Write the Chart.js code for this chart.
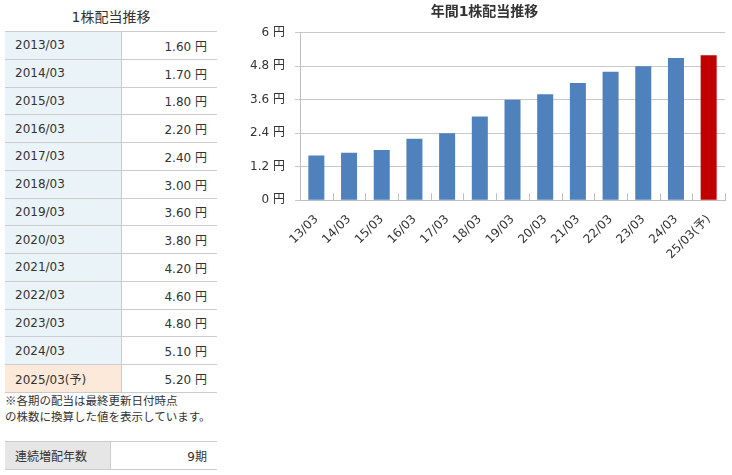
<!DOCTYPE html>
<html lang="ja">
<head>
  <meta charset="UTF-8">
  <title>1株配当推移</title>
  <script src="https://cdn.jsdelivr.net/npm/chart.js"></script>
  <style>
    * { margin: 0; padding: 0; box-sizing: border-box; }
    body {
      font-family: 'DejaVu Sans', 'Noto Sans CJK JP', sans-serif;
      background: #fff;
      color: #333;
      width: 732px;
      height: 475px;
      position: relative;
      overflow: hidden;
    }
    .left { position: absolute; left: 5px; top: 0; width: 212px; }
    .left h3 {
      font-size: 14px;
      font-weight: normal;
      text-align: center;
      height: 31px;
      line-height: 34px;
    }
    table { border-collapse: collapse; width: 212px; font-size: 12px; }
    td { height: 27.75px; border-top: 1px solid #ccc; border-bottom: 1px solid #ccc; padding: 0 10px; }
    td.p { width: 116px; background: #eaf4f8; border-right: 1px solid #ccc; }
    td.v { text-align: right; }
    tr.fc td.p { background: #fde9d9; }
    .note {
      font-size: 11.5px;
      line-height: 16px;
      margin-top: -1px;
      white-space: nowrap;
      font-family: 'Noto Sans CJK JP', sans-serif;
    }
    .streak { position: absolute; left: 5px; top: 441px; }
    .streak td { height: 28px; }
    .streak td.p { width: 105px; background: #e6e6e6; font-family: 'Noto Sans CJK JP', sans-serif; }
    .chart-box { position: absolute; left: 244px; top: 0; width: 488px; height: 266px; }
  </style>
</head>
<body>
  <div class="left">
    <h3>1株配当推移</h3>
    <table id="divTable"></table>
    <p class="note">※各期の配当は最終更新日付時点<br>の株数に換算した値を表示しています。</p>
  </div>
  <table class="streak">
    <tr><td class="p">連続増配年数</td><td class="v" id="streak"></td></tr>
  </table>
  <div class="chart-box">
    <canvas id="divChart"></canvas>
  </div>

<script>
  const periods = ['2013/03', '2014/03', '2015/03', '2016/03', '2017/03', '2018/03', '2019/03',
                   '2020/03', '2021/03', '2022/03', '2023/03', '2024/03', '2025/03(予)'];
  const chartLabels = ['13/03', '14/03', '15/03', '16/03', '17/03', '18/03', '19/03',
                       '20/03', '21/03', '22/03', '23/03', '24/03', '25/03(予)'];
  const dividends = [1.60, 1.70, 1.80, 2.20, 2.40, 3.00, 3.60, 3.80, 4.20, 4.60, 4.80, 5.10, 5.20];
  const yTicks = [0, 1.2, 2.4, 3.6, 4.8, 6];
  const streakYears = 9;

  // left table
  const table = document.getElementById('divTable');
  periods.forEach((p, i) => {
    const tr = document.createElement('tr');
    if (p.includes('予')) tr.className = 'fc';
    tr.innerHTML = `<td class="p">${p}</td><td class="v">${dividends[i].toFixed(2)} 円</td>`;
    table.appendChild(tr);
  });
  document.getElementById('streak').textContent = streakYears + '期';

  // small marks between the categories, inside the plot
  const catMarks = {
    id: 'catMarks',
    afterDatasetsDraw(chart) {
      const x = chart.scales.x, y = chart.scales.y;
      const ctx = chart.ctx;
      const step = x.width / chartLabels.length;
      ctx.save();
      ctx.strokeStyle = '#bfbfbf';
      ctx.lineWidth = 1;
      ctx.beginPath();
      for (let i = 1; i <= chartLabels.length; i++) {
        const px = Math.round(x.left + step * i) + 0.5;
        ctx.moveTo(px, y.bottom);
        ctx.lineTo(px, y.bottom - 7);
      }
      ctx.stroke();
      ctx.restore();
    }
  };

  const font = { family: "'DejaVu Sans', 'Noto Sans CJK JP', sans-serif", size: 12 };

  new Chart(document.getElementById('divChart'), {
    type: 'bar',
    data: {
      labels: chartLabels,
      datasets: [{
        data: dividends,
        backgroundColor: chartLabels.map(l => l.includes('予') ? '#c00000' : '#4f81bd'),
        barPercentage: 0.49,
        categoryPercentage: 1
      }]
    },
    options: {
      responsive: true,
      maintainAspectRatio: false,
      animation: false,
      layout: { padding: { right: 7, top: 0 } },
      plugins: {
        legend: { display: false },
        tooltip: { enabled: false },
        title: {
          display: true,
          text: '年間1株配当推移',
          color: '#333',
          font: { family: font.family, size: 14, weight: 'bold' },
          padding: { top: 4, bottom: 12 }
        }
      },
      scales: {
        x: {
          grid: { display: false },
          border: { color: '#bfbfbf' },
          ticks: { color: '#333', font: font, minRotation: 45, maxRotation: 45, padding: 4 }
        },
        y: {
          min: 0,
          max: 6,
          afterFit(scale) { scale.width = 56; },
          afterBuildTicks(scale) { scale.ticks = yTicks.map(v => ({ value: v })); },
          grid: { color: '#c8c8c8', tickLength: 5 },
          border: { color: '#bfbfbf' },
          ticks: {
            color: '#333',
            font: font,
            padding: 10,
            callback: v => v + ' 円'
          }
        }
      }
    },
    plugins: [catMarks]
  });
</script>
</body>
</html>
